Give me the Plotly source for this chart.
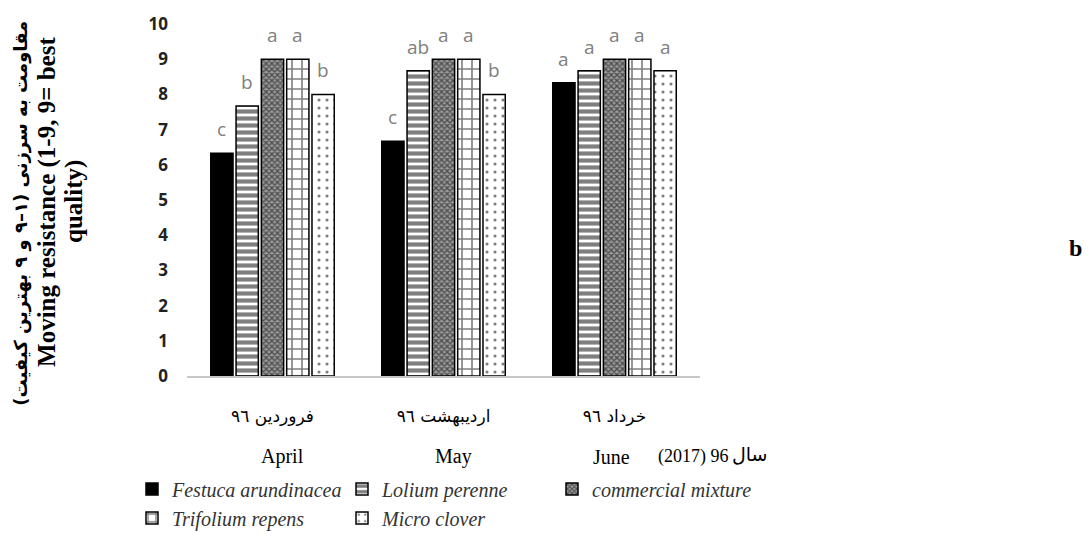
import plotly.graph_objects as go

# Sampling months (Persian calendar labels) and their Gregorian names
months_fa = ["فروردین ٩٦", "اردیبهشت ٩٦", "خرداد ٩٦"]
months_en = ["April", "May", "June"]

# Turf species / mixtures
species = ["Festuca arundinacea", "Lolium perenne", "commercial mixture",
           "Trifolium repens", "Micro clover"]

# Mowing resistance scores (1-9) per species, per month
festuca = [6.33, 6.67, 8.33]
lolium = [7.67, 8.67, 8.67]
mixture = [9.0, 9.0, 9.0]
trifolium = [9.0, 9.0, 9.0]
micro = [8.0, 8.0, 8.67]
values = [festuca, lolium, mixture, trifolium, micro]

# Mean-separation letters above each bar
letters_festuca = ["c", "c", "a"]
letters_lolium = ["b", "ab", "a"]
letters_mixture = ["a", "a", "a"]
letters_trifolium = ["a", "a", "a"]
letters_micro = ["b", "b", "a"]
letters = [letters_festuca, letters_lolium, letters_mixture,
           letters_trifolium, letters_micro]

y_ticks = list(range(0, 11))

W, H = 1092, 550
ML, MR, MT, MB = 187, 392, 19, 173
PW, PH = W - ML - MR, H - MT - MB

BARGAP = 0.26
BARGROUPGAP = 0.12

SERIF = "Liberation Serif, Times New Roman, serif"


def px(x):
    """Figure pixel column -> paper x."""
    return (x - ML) / PW


def py(y):
    """Figure pixel row -> paper y."""
    return (H - MB - y) / PH


patterns = [
    dict(shape=""),
    dict(shape="-", fgcolor="black", bgcolor="white", size=7, solidity=0.6),
    dict(shape="x", fgcolor="black", bgcolor="#9a9a9a", size=4, solidity=0.55),
    dict(shape="+", fgcolor="black", bgcolor="white", size=10, solidity=0.3),
    dict(shape=".", fgcolor="black", bgcolor="white", size=8, solidity=0.12),
]
fills = ["black", "white", "#9a9a9a", "white", "white"]

fig = go.Figure()
for name, vals, pat, fill in zip(species, values, patterns, fills):
    fig.add_trace(go.Bar(
        x=months_fa, y=vals, name=f"<i>{name}</i>",
        marker=dict(color=fill, line=dict(color="black", width=1.5),
                    pattern=pat),
    ))

# Letters placed over each bar using the grouped-bar slot geometry
n = len(species)
slot = (1 - BARGAP) / n
annotations = []
for j, (vals, labs) in enumerate(zip(values, letters)):
    for i, (v, lab) in enumerate(zip(vals, labs)):
        annotations.append(dict(
            x=i - (1 - BARGAP) / 2 + (j + 0.5) * slot, y=v, xref="x", yref="y",
            text=lab, showarrow=False, yanchor="bottom", yshift=9,
            font=dict(family="Open Sans", size=19, color="#808080"),
        ))

# Gregorian month names row and year note
for xp, txt, fs in zip([282, 453, 611, 693], months_en + ["(2017) 96"],
                       [20, 20, 20, 18]):
    annotations.append(dict(
        x=px(xp), y=py(459), xref="paper", yref="paper",
        text=txt, showarrow=False, xanchor="center", yanchor="middle",
        font=dict(family=SERIF, size=fs, color="black"),
    ))
annotations.append(dict(
    x=px(750), y=py(456), xref="paper", yref="paper",
    text="سال", showarrow=False, xanchor="center", yanchor="middle",
    font=dict(family="DejaVu Sans", size=19, color="black"),
))

# Y axis title lines (Persian + English)
annotations.append(dict(
    x=px(21), y=py(212), xref="paper", yref="paper",
    text="<b>مقاومت به سرزنی (۱–۹ و ۹ بهترین کیفیت)</b>", textangle=-90,
    showarrow=False, xanchor="center", yanchor="middle",
    font=dict(family="DejaVu Sans", size=18, color="black"),
))
annotations.append(dict(
    x=px(47), y=py(200), xref="paper", yref="paper",
    text="<b>Moving resistance (1-9, 9= best</b>", textangle=-90,
    showarrow=False, xanchor="center", yanchor="middle",
    font=dict(family=SERIF, size=25, color="black"),
))
annotations.append(dict(
    x=px(74), y=py(200), xref="paper", yref="paper",
    text="<b>quality)</b>", textangle=-90,
    showarrow=False, xanchor="center", yanchor="middle",
    font=dict(family=SERIF, size=25, color="black"),
))

# Panel tag
annotations.append(dict(
    x=px(1075), y=py(247), xref="paper", yref="paper",
    text="<b>b</b>", showarrow=False, xanchor="center", yanchor="middle",
    font=dict(family=SERIF, size=24, color="black"),
))

fig.update_layout(
    width=W, height=H,
    margin=dict(l=ML, r=MR, t=MT, b=MB),
    paper_bgcolor="white", plot_bgcolor="white",
    barmode="group", bargap=BARGAP, bargroupgap=BARGROUPGAP,
    showlegend=True,
    legend=dict(
        orientation="h", x=px(132), xanchor="left", y=py(472), yanchor="top",
        font=dict(family=SERIF, size=20, color="#333"),
        itemwidth=30, tracegroupgap=0, traceorder="normal",
        entrywidth=165,
    ),
    annotations=annotations,
)
fig.update_xaxes(
    showline=True, linecolor="#c8c8c8", linewidth=2, showgrid=False,
    ticks="", ticklabelstandoff=24,
    tickfont=dict(family="DejaVu Sans", size=17, color="black"),
)
fig.update_yaxes(
    range=[0, 10], tickvals=y_ticks, showgrid=False, showline=False,
    zeroline=False, ticks="", ticklabelstandoff=18,
    tickfont=dict(family="Open Sans", size=17, color="#222", weight="bold"),
)

fig.write_html("out.html")
